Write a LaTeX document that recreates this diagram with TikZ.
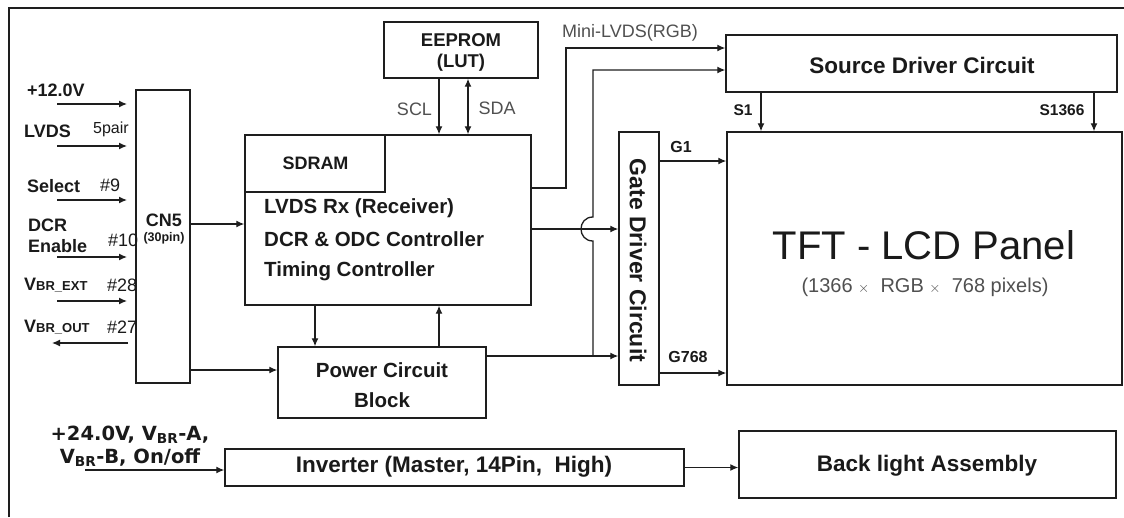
\documentclass[tikz,border=0pt]{standalone}
\usepackage{fontspec}
\setmainfont{Liberation Sans}
\newfontfamily\verd{DejaVu Sans}
\usetikzlibrary{arrows.meta}
\definecolor{linec}{HTML}{1E1E1E}
\definecolor{txt}{HTML}{1A1A1A}
\definecolor{gtxt}{HTML}{505050}
\newcommand{\fsz}[1]{\fontsize{#1}{#1}\selectfont}
\begin{document}
\begin{tikzpicture}[x=1pt,y=-1pt,
  box/.style={draw=linec, line width=1.4pt, inner sep=0pt, fill=white},
  arr/.style={draw=linec, line width=1.3pt, -{Latex[length=8pt,width=7pt]}},
  darr/.style={draw=linec, line width=1.3pt, {Latex[length=8pt,width=7pt]}-{Latex[length=8pt,width=7pt]}},
  ln/.style={draw=linec, line width=1.3pt},
  lbl/.style={inner sep=0pt, text=txt, font=\bfseries\fsz{18}},
  lblr/.style={inner sep=0pt, text=txt, font=\fsz{18}},
  glbl/.style={inner sep=0pt, text=gtxt, font=\fsz{18}},
  big/.style={inner sep=0pt, text=txt, font=\bfseries\fsz{22.5}},
  small/.style={inner sep=0pt, text=txt, font=\bfseries\fsz{15.5}}]
\useasboundingbox (0,0) rectangle (1124,517);
\fill[white] (0,0) rectangle (1124,517);
% frame
\draw[ln, line width=1.5pt] (9,517) -- (9,8) -- (1124,8);

% boxes
\node[box, minimum width=54pt, minimum height=293pt] (cn5) at (163,236.5) {};
\node[box, minimum width=286pt, minimum height=170pt] (main) at (388,220) {};
\node[box, minimum width=140pt, minimum height=57pt] (sdram) at (315,163.5) {};
\node[box, minimum width=154pt, minimum height=56pt] (eeprom) at (461,50) {};
\node[box, minimum width=391pt, minimum height=57pt] (source) at (921.5,63.5) {};
\node[box, minimum width=40pt, minimum height=253pt] (gate) at (639,258.5) {};
\node[box, minimum width=395pt, minimum height=253pt] (tft) at (924.5,258.5) {};
\node[box, minimum width=208pt, minimum height=71pt] (power) at (382,382.5) {};
\node[box, minimum width=459pt, minimum height=37pt] (inverter) at (454.5,467.5) {};
\node[box, minimum width=377pt, minimum height=67pt] (backlight) at (927.5,464.5) {};

% box texts
\node[lbl] (cn5t) at (164,220) {CN5};
\node[inner sep=0pt, text=txt, font=\bfseries\fsz{12.5}] (cn5p) at (164,238) {(30pin)};
\node[lbl] (sdramt) at (315.5,163) {SDRAM};
\node[inner sep=0pt, text=txt, font=\bfseries\fsz{20.5}, anchor=west] (rx) at (264,208) {LVDS Rx (Receiver)};
\node[inner sep=0pt, text=txt, font=\bfseries\fsz{20.5}, anchor=west] (dcr) at (264,239) {DCR \& ODC Controller};
\node[inner sep=0pt, text=txt, font=\bfseries\fsz{20.5}, anchor=west] (tcon) at (264,271) {Timing Controller};
\node[lbl, font=\bfseries\fsz{18.5}] (eet1) at (461,40) {EEPROM};
\node[lbl, font=\bfseries\fsz{18.5}] (eet2) at (461,63) {(LUT)};
\node[big] (sourcet) at (922,65) {Source Driver Circuit};
\node[big, font=\bfseries\fsz{23}, rotate=-90] (gatet) at (638,260.5) {Gate Driver Circuit};
\node[inner sep=0pt, text=txt, font=\fsz{40}] (tftt) at (924,245) {TFT - LCD Panel};
\node[inner sep=0pt, text=gtxt, font=\fsz{20}] (pix) at (925,287) {(1366 {\fsz{14}$\times$}\ \ RGB {\fsz{14}$\times$}\ \ 768 pixels)};
\node[inner sep=0pt, text=txt, font=\bfseries\fsz{20.5}] (pw1) at (382,370) {Power Circuit};
\node[inner sep=0pt, text=txt, font=\bfseries\fsz{20.5}] (pw2) at (382,400) {Block};
\node[big] (invt) at (454,467) {Inverter (Master, 14Pin,\ \ High)};
\node[big] (blt) at (927,466) {Back light Assembly};

% connector labels
\node[glbl] (scl) at (414.5,109) {SCL};
\node[glbl] (sda) at (497,108) {SDA};
\node[glbl] (mini) at (630,33) {Mini-LVDS(RGB)};
\node[small] (s1) at (743,110) {S1};
\node[small] (s1366) at (1062,110) {S1366};
\node[small, font=\bfseries\fsz{16}] (g1) at (681,147) {G1};
\node[small, font=\bfseries\fsz{16}] (g768) at (688,357) {G768};

% left inputs
\node[lbl, anchor=west] (l12) at (27,90) {+12.0V};
\node[lbl, anchor=west] (llvds) at (24,131) {LVDS};
\node[lblr, font=\fsz{16}, anchor=west] (l5p) at (93,129) {5pair};
\node[lbl, anchor=west] (lsel) at (27,186) {Select};
\node[lblr, anchor=west] (l9) at (100,185) {\#9};
\node[lbl, anchor=west] (ldcr) at (28,225) {DCR};
\node[lbl, anchor=west] (len) at (28,246) {Enable};
\node[lblr, anchor=west] (l10) at (108,240) {\#10};
\node[lbl, anchor=west] (lext) at (24,285) {V{\fsz{13}BR\_EXT}};
\node[lblr, anchor=west] (l28) at (107,285) {\#28};
\node[lbl, anchor=west] (lout) at (24,327) {V{\fsz{13}BR\_OUT}};
\node[lblr, anchor=west] (l27) at (107,327) {\#27};
\node[inner sep=0pt, text=txt, font=\verd\bfseries\fsz{19.5}] (l24a) at (130,435) {+24.0V, V\textsubscript{BR}-A,};
\node[inner sep=0pt, text=txt, font=\verd\bfseries\fsz{19.5}] (l24b) at (130,458) {V\textsubscript{BR}-B, On/off};

% coordinates for free ends
\coordinate (a1s) at (57,104);  \coordinate (a1e) at (127,104);
\coordinate (a2s) at (57,146);  \coordinate (a2e) at (127,146);
\coordinate (a3s) at (57,200);  \coordinate (a3e) at (127,200);
\coordinate (a4s) at (57,257);  \coordinate (a4e) at (127,257);
\coordinate (a5s) at (57,301);  \coordinate (a5e) at (127,301);
\coordinate (a6s) at (128,343); \coordinate (a6e) at (52,343);
\coordinate (a24) at (85,470);
\coordinate (mini1) at (566,188);
\coordinate (mini2) at (566,48);
\coordinate (gl1) at (593,356);
\coordinate (gl2) at (593,241);
\coordinate (gl3) at (593,217);
\coordinate (gl4) at (593,70);

\draw[arr] (a1s) -- (a1e);
\draw[arr] (a2s) -- (a2e);
\draw[arr] (a3s) -- (a3e);
\draw[arr] (a4s) -- (a4e);
\draw[arr] (a5s) -- (a5e);
\draw[arr] (a6s) -- (a6e);

% CN5 connections
\draw[arr] (cn5.east |- 0,224) -- (main.west |- 0,224);
\draw[arr] (cn5.east |- 0,370) -- (power.west |- 0,370);

% main <-> power
\draw[arr] (main.south -| 315,0) -- (power.north -| 315,0);
\draw[arr] (power.north -| 439,0) -- (main.south -| 439,0);

% EEPROM
\draw[arr] (eeprom.south -| 439,0) -- (main.north -| 439,0);
\draw[darr] (eeprom.south -| 468,0) -- (main.north -| 468,0);

% mini-LVDS
\draw[arr] (main.east |- mini1) -- (mini1) -- (mini2) -- (source.west |- mini2);

% main -> gate
\draw[arr] (main.east |- 0,229) -- (gate.west |- 0,229);

% power -> gate and source
\draw[arr] (power.east |- gl1) -- (gate.west |- gl1);
\draw[arr] (gl1) -- (gl2) .. controls (577,241) and (577,217) .. (gl3) -- (gl4) -- (source.west |- gl4);

% gate -> tft
\draw[arr] (gate.east |- 0,161) -- (tft.west |- 0,161);
\draw[arr] (gate.east |- 0,373) -- (tft.west |- 0,373);

% source -> tft
\draw[arr] (source.south -| 761,0) -- (tft.north -| 761,0);
\draw[arr] (source.south -| 1094,0) -- (tft.north -| 1094,0);

% inverter
\draw[arr] (a24) -- (inverter.west |- a24);
\draw[arr] (inverter.east) -- (backlight.west |- inverter.east);
\end{tikzpicture}
\end{document}
